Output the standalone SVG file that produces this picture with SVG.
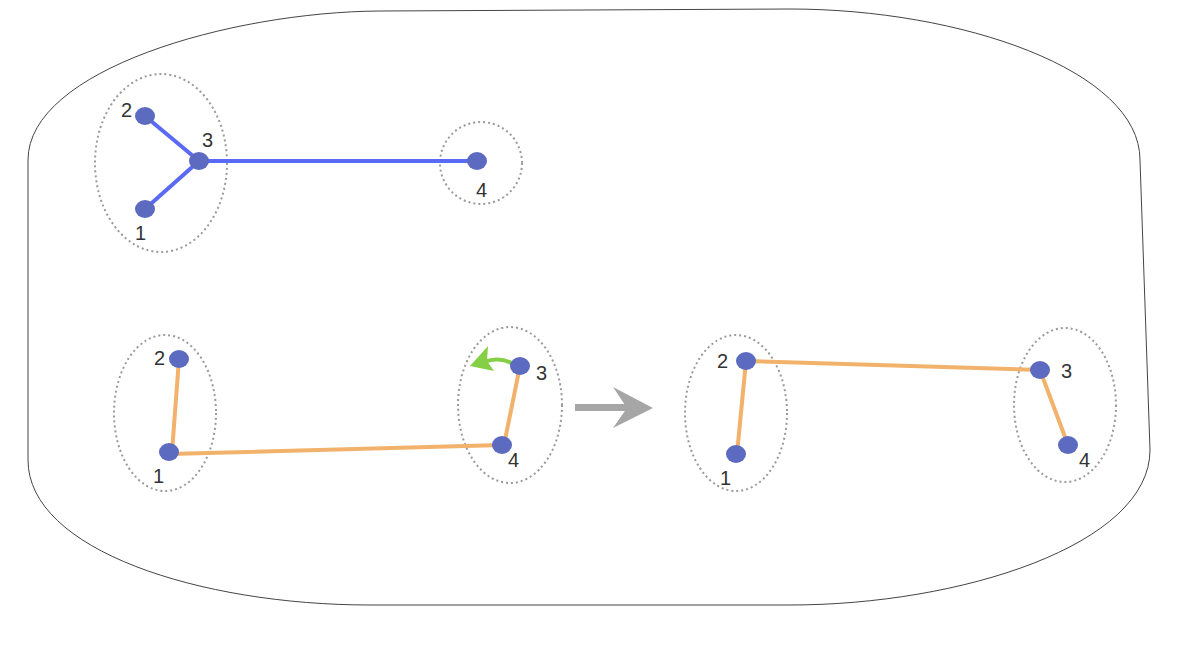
<svg xmlns="http://www.w3.org/2000/svg" width="1180" height="652" viewBox="0 0 1180 652">
<style>
.group{fill:none;stroke:#9a9a9a;stroke-width:2;stroke-dasharray:2 3}
.node{fill:#5C6BC0}
.lbl{font-family:"Liberation Sans",Arial,sans-serif;font-size:20px;fill:#333}
.blue{stroke:#5B6AF5;stroke-width:4;fill:none;stroke-linecap:round}
.orange{stroke:#F2B26C;stroke-width:4;fill:none;stroke-linecap:round}
</style>
<rect width="1180" height="652" fill="#fff"/>
<path id="boundary" d="M28,160 C28,70 230,12 380,11 L790,9 C960,9 1140,70 1140,160 L1150,450 C1150,545 960,605 790,605 L370,605 C200,605 28,550 28,460 Z" fill="none" stroke="#444" stroke-width="1"/>
<g id="groups">
<ellipse class="group" cx="161" cy="163" rx="66" ry="89"/>
<ellipse class="group" cx="481" cy="163" rx="41" ry="41"/>
<ellipse class="group" cx="165" cy="413" rx="51" ry="78"/>
<ellipse class="group" cx="510" cy="405" rx="52" ry="78"/>
<ellipse class="group" cx="736" cy="413" rx="51" ry="78"/>
<ellipse class="group" cx="1065" cy="405" rx="51" ry="77"/>
</g>
<g id="connectors">
<line class="blue" x1="145" y1="116" x2="199" y2="161"/>
<line class="blue" x1="145" y1="209" x2="199" y2="161"/>
<line class="blue" x1="199" y1="161" x2="477" y2="161"/>
<line class="orange" x1="179" y1="359" x2="172" y2="452"/>
<line class="orange" x1="169" y1="454" x2="502" y2="445"/>
<line class="orange" x1="520" y1="366" x2="504" y2="445"/>
<line class="orange" x1="746" y1="361" x2="737" y2="454"/>
<line class="orange" x1="746" y1="361" x2="1040" y2="370"/>
<line class="orange" x1="1040" y1="370" x2="1068" y2="445"/>
<path d="M513,364 Q502,357 487,361" fill="none" stroke="#84CF45" stroke-width="4"/>
<polygon points="470,366 488,346 487,361 494,371" fill="#84CF45"/>
<rect x="575" y="404" width="52" height="7" fill="#A6A6A6"/>
<polygon points="653,408 613,387 627,408 613,428" fill="#A6A6A6"/>
</g>
<g id="n-a2"><ellipse class="node" cx="145" cy="116" rx="10" ry="9"/><text class="lbl" x="121" y="117">2</text></g>
<g id="n-a3"><ellipse class="node" cx="199" cy="161" rx="10" ry="9"/><text class="lbl" x="202" y="147">3</text></g>
<g id="n-a1"><ellipse class="node" cx="145" cy="209" rx="10" ry="9"/><text class="lbl" x="135" y="240">1</text></g>
<g id="n-a4"><ellipse class="node" cx="477" cy="161" rx="10" ry="9"/><text class="lbl" x="476" y="197">4</text></g>
<g id="n-b2"><ellipse class="node" cx="179" cy="359" rx="10" ry="9"/><text class="lbl" x="154" y="365">2</text></g>
<g id="n-b1"><ellipse class="node" cx="169" cy="452" rx="10" ry="9"/><text class="lbl" x="153" y="483">1</text></g>
<g id="n-b3"><ellipse class="node" cx="520" cy="366" rx="10" ry="9"/><text class="lbl" x="536" y="380">3</text></g>
<g id="n-b4"><ellipse class="node" cx="502" cy="445" rx="10" ry="9"/><text class="lbl" x="508" y="467">4</text></g>
<g id="n-c2"><ellipse class="node" cx="746" cy="361" rx="10" ry="9"/><text class="lbl" x="717" y="368">2</text></g>
<g id="n-c1"><ellipse class="node" cx="736" cy="454" rx="10" ry="9"/><text class="lbl" x="720" y="485">1</text></g>
<g id="n-c3"><ellipse class="node" cx="1040" cy="370" rx="10" ry="9"/><text class="lbl" x="1061" y="378">3</text></g>
<g id="n-c4"><ellipse class="node" cx="1068" cy="445" rx="10" ry="9"/><text class="lbl" x="1079" y="467">4</text></g>
</svg>
